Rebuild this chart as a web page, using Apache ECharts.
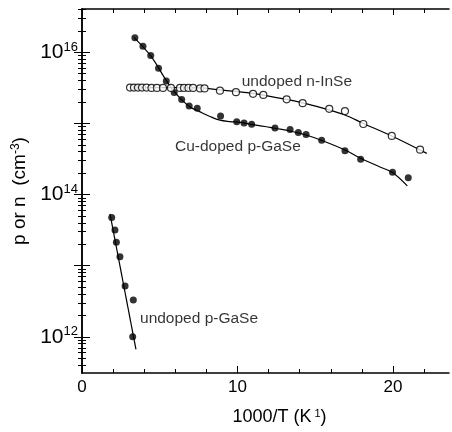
<!DOCTYPE html>
<html>
<head>
<meta charset="utf-8">
<script src="https://cdn.jsdelivr.net/npm/echarts@6/dist/echarts.min.js"></script>
<style>
html, body { margin: 0; padding: 0; background: #fff; }
#chart { width: 452px; height: 432px; }
</style>
</head>
<body>
<div id="chart"></div>
<script>
// Cu-doped p-GaSe : measured points
const cuX = [3.40, 3.92, 4.42, 4.92, 5.42, 5.93, 6.41, 6.89, 7.41, 8.91, 9.95, 10.42, 10.91, 12.41, 13.38, 13.91, 14.41, 15.41, 16.91, 17.92, 19.97, 20.98];
const cuY = [1.6e16, 1.21e16, 9.0e15, 5.96e15, 3.94e15, 2.72e15, 2.17e15, 1.76e15, 1.63e15, 1.27e15, 1.05e15, 1.01e15, 9.75e14, 8.6e14, 8.2e14, 7.45e14, 6.98e14, 5.78e14, 4.13e14, 3.13e14, 2.05e14, 1.72e14];
// Cu-doped p-GaSe : fitted curve
const cuFitX = [3.34, 4.42, 5.40, 5.92, 6.43, 6.95, 7.59, 8.23, 8.87, 9.52, 10.16, 10.93, 11.77, 12.41, 13.38, 14.41, 15.43, 16.91, 17.94, 19.16, 19.97, 20.92];
const cuFitY = [1.62e16, 8.87e15, 4.07e15, 2.81e15, 2.13e15, 1.70e15, 1.45e15, 1.25e15, 1.11e15, 1.06e15, 1.03e15, 9.66e14, 9.04e14, 8.53e14, 7.82e14, 6.87e14, 5.75e14, 4.23e14, 3.21e14, 2.44e14, 2.04e14, 1.32e14];

// undoped n-InSe : measured points (open circles)
const inX = [3.09, 3.34, 3.60, 3.86, 4.15, 4.47, 4.82, 5.21, 5.72, 6.30, 6.56, 6.85, 7.14, 7.59, 7.88, 8.87, 9.90, 11.0, 11.66, 13.16, 14.19, 15.90, 16.91, 18.09, 19.92, 21.74];
const inY = [3.18e15, 3.18e15, 3.18e15, 3.18e15, 3.18e15, 3.15e15, 3.15e15, 3.15e15, 3.15e15, 3.15e15, 3.15e15, 3.15e15, 3.15e15, 3.1e15, 3.1e15, 2.88e15, 2.74e15, 2.6e15, 2.51e15, 2.18e15, 1.92e15, 1.6e15, 1.49e15, 9.8e14, 6.65e14, 4.27e14];
// undoped n-InSe : fitted curve
const inFitX = [3.09, 7.59, 8.87, 9.90, 10.98, 13.16, 14.19, 15.31, 16.91, 18.09, 19.92, 22.17];
const inFitY = [3.18e15, 3.15e15, 2.95e15, 2.81e15, 2.64e15, 2.17e15, 1.94e15, 1.68e15, 1.31e15, 9.97e14, 6.65e14, 3.79e14];

// undoped p-GaSe
const gaX = [1.91, 2.12, 2.21, 2.44, 2.77, 3.30, 3.26];
const gaY = [4.74e13, 3.17e13, 2.13e13, 1.33e13, 5.16e12, 3.28e12, 1.0e12];
const gaFitX = [1.80, 3.47];
const gaFitY = [5.36e13, 6.65e11];

// curve labels, anchored at their left end (data coordinates)
const noteText = ['undoped n-InSe', 'Cu-doped p-GaSe', 'undoped p-GaSe'];
const noteX = [10.27, 5.98, 3.73];
const noteY = [3.86e15, 4.7e14, 1.82e12];

// axis ticks
const xMajor = [0, 10, 20];
const xMinor = [2, 4, 6, 8, 12, 14, 16, 18, 22];
const yMajor = [1e12, 1e13, 1e14, 1e15, 1e16];
const yLabeled = [1e12, 1e14, 1e16];
const yMinor = [];
for (let e = 11; e <= 16; e++) {
  for (let m = 2; m <= 9; m++) yMinor.push(m * Math.pow(10, e));
}

const X_MIN = 0, X_MAX = 23.6;
const Y_MIN = 3.1e11, Y_MAX = 4.05e16;

const zip = (xs, ys) => xs.map((x, i) => [x, ys[i]]);
const ink = '#000';
const font = 'Liberation Sans, Arial, Helvetica, sans-serif';

function xAxisOf(pos, ticks, len, withLabels) {
  return {
    type: 'value', position: pos, min: X_MIN, max: X_MAX,
    axisLine: { show: withLabels !== null, lineStyle: { color: ink, width: 1.5 } },
    axisTick: { show: true, inside: true, length: len, customValues: ticks, lineStyle: { color: ink, width: 1 } },
    axisLabel: withLabels ? {
      show: true, customValues: xMajor, margin: 6, color: ink, fontSize: 17, fontFamily: font
    } : { show: false },
    splitLine: { show: false }
  };
}

function yAxisOf(pos, ticks, len, withLabels) {
  return {
    type: 'log', logBase: 10, position: pos, min: Y_MIN, max: Y_MAX,
    axisLine: { show: withLabels !== null, lineStyle: { color: ink, width: 1.5 } },
    axisTick: { show: true, inside: true, length: len, customValues: ticks, lineStyle: { color: ink, width: 1 } },
    axisLabel: withLabels ? {
      show: true, customValues: yLabeled, margin: 4, color: ink, fontFamily: font,
      formatter: v => '{b|10}{s|' + Math.round(Math.log10(v)) + '}',
      rich: {
        b: { fontSize: 21, fontFamily: font, color: ink },
        s: { fontSize: 13, fontFamily: font, color: ink, verticalAlign: 'bottom', padding: [0, 0, 10, 0] }
      }
    } : { show: false },
    splitLine: { show: false },
    minorSplitLine: { show: false }
  };
}

const xAxes = [
  xAxisOf('bottom', xMajor, 7, true),
  xAxisOf('bottom', xMinor, 4, null),
  xAxisOf('top', xMajor, 6, false),
  xAxisOf('top', xMinor, 4, null)
];
xAxes[0].name = '1000/T (K{s| 1})';
xAxes[0].nameLocation = 'middle';
xAxes[0].nameGap = 35;
xAxes[0].nameTextStyle = {
  color: ink, fontSize: 18, fontFamily: font, padding: [0, 0, 0, 28],
  rich: { s: { fontSize: 11, fontFamily: font, color: ink, verticalAlign: 'bottom', padding: [0, 0, 8, 0] } }
};

const yAxes = [
  yAxisOf('left', yMajor, 8, true),
  yAxisOf('left', yMinor, 4, null),
  yAxisOf('right', yMajor, 8, false),
  yAxisOf('right', yMinor, 4, null)
];
yAxes[0].name = 'p or n  (cm{s|-3})';
yAxes[0].nameLocation = 'middle';
yAxes[0].nameGap = 46;
yAxes[0].nameRotate = 90;
yAxes[0].nameTextStyle = {
  color: ink, fontSize: 19, fontFamily: font,
  rich: { s: { fontSize: 12, fontFamily: font, color: ink, verticalAlign: 'bottom', padding: [0, 0, 9, 0] } }
};

const fit = (xs, ys) => ({
  type: 'line', data: zip(xs, ys), smooth: 0.35, showSymbol: false, silent: true,
  lineStyle: { color: ink, width: 1.2 }, z: 2
});
const dots = (xs, ys, open) => ({
  type: 'scatter', data: zip(xs, ys), symbol: 'circle', symbolSize: 7, silent: true,
  itemStyle: open ? { color: '#fff', borderColor: ink, borderWidth: 1.2 } : { color: ink },
  z: 3
});

let chart = echarts.init(document.getElementById('chart'), null, { renderer: 'canvas' });
chart.setOption({
  animation: false,
  backgroundColor: '#fff',
  grid: { left: 82, right: 3, top: 9, bottom: 59 },
  xAxis: xAxes,
  yAxis: yAxes,
  series: [
    fit(cuFitX, cuFitY),
    fit(inFitX, inFitY),
    fit(gaFitX, gaFitY),
    dots(cuX, cuY, false),
    dots(inX, inY, true),
    dots(gaX, gaY, false),
    {
      type: 'scatter', silent: true, symbolSize: 0,
      data: noteText.map((t, i) => ({ name: t, value: [noteX[i], noteY[i]] })),
      label: {
        show: true, position: 'right', distance: 0, formatter: p => p.name,
        color: ink, fontSize: 15.5, fontFamily: font
      },
      z: 4
    }
  ]
});
window.onresize = function () {
  chart.resize();
};
</script>
